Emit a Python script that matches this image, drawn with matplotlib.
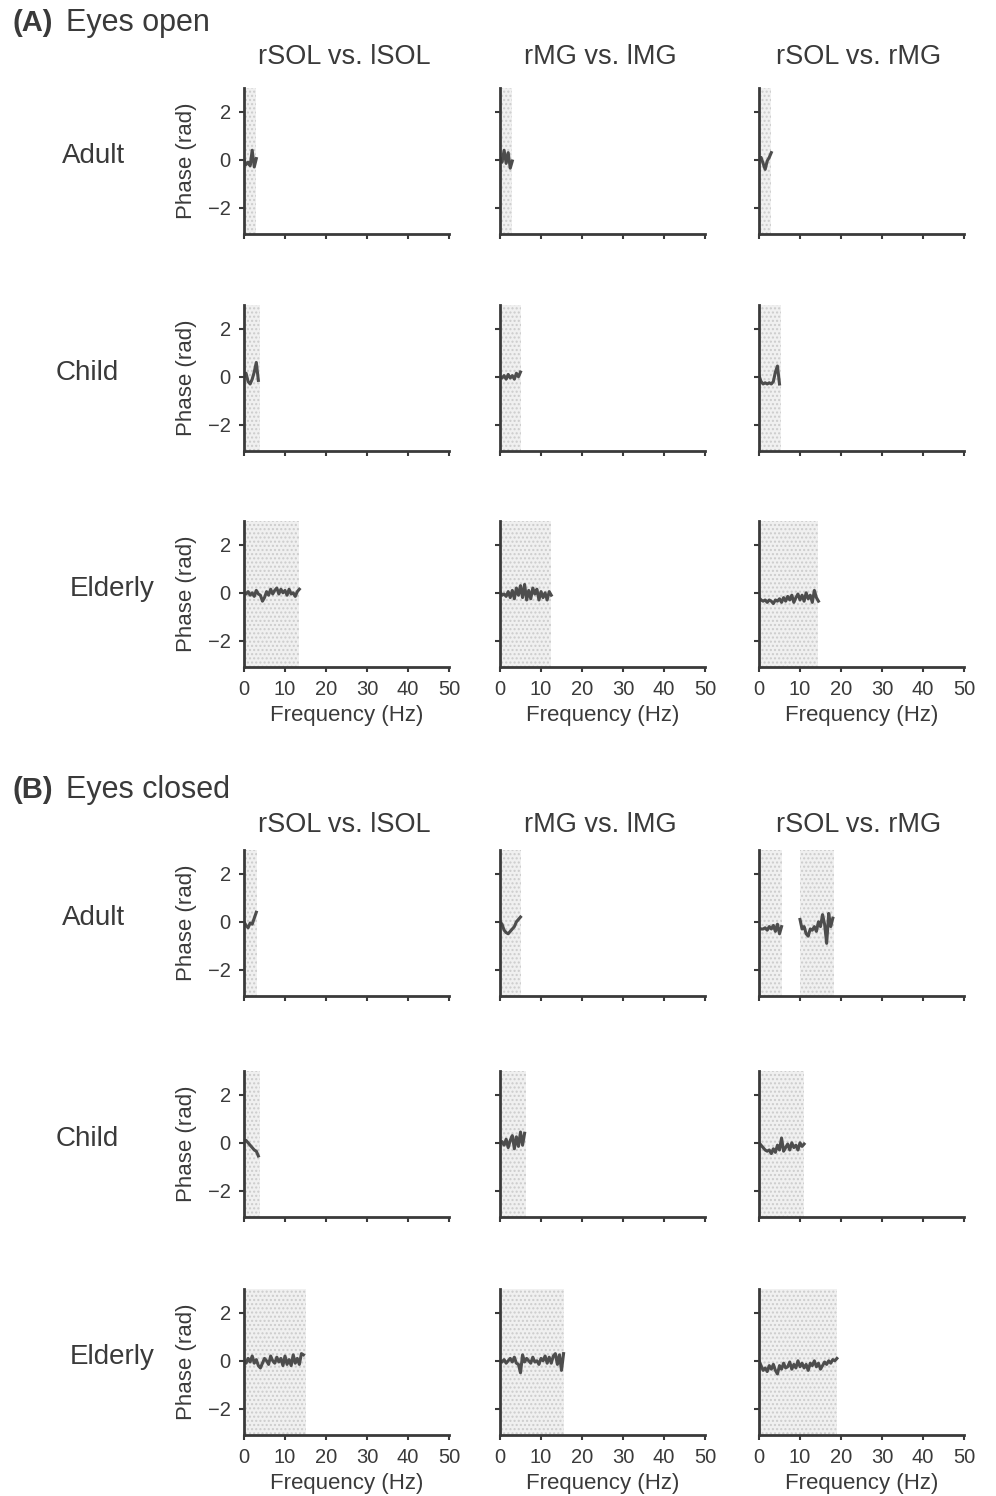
import matplotlib.pyplot as plt

plt.rcParams['font.family'] = ['Liberation Sans', 'DejaVu Sans']

INK = '#3a3a3a'
LINE = '#4d4d4d'

pairs = ["rSOL vs. lSOL", "rMG vs. lMG", "rSOL vs. rMG"]
groups = ["Adult", "Child", "Elderly"]
x_ticks = [0, 10, 20, 30, 40, 50]
y_ticks = [-2, 0, 2]

# ---- (A) eyes open: frequency (Hz) and phase (rad) of significant coherence
eo_adult_sol_f = [0, 0.5, 1, 1.5, 2, 2.5, 3]
eo_adult_sol_p = [0.0, -0.2, -0.1, -0.25, 0.4, -0.3, 0.05]
eo_adult_mg_f = [0, 0.5, 1, 1.5, 2, 2.5, 3]
eo_adult_mg_p = [0.05, -0.1, 0.4, -0.15, 0.3, -0.35, -0.05]
eo_adult_sm_f = [0, 0.5, 1, 1.5, 2, 2.5, 3]
eo_adult_sm_p = [0.0, 0.1, -0.15, -0.4, -0.05, 0.1, 0.3]

eo_child_sol_f = [0, 0.5, 1, 1.5, 2, 2.5, 3, 3.5]
eo_child_sol_p = [0.0, 0.15, -0.2, -0.3, -0.1, 0.2, 0.6, -0.15]
eo_child_mg_f = [0, 0.5, 1, 1.5, 2, 2.5, 3, 3.5, 4, 4.5, 5]
eo_child_mg_p = [0.0, -0.05, 0.05, -0.1, 0.1, -0.05, 0.05, -0.1, 0.15, 0.0, 0.2]
eo_child_sm_f = [0, 0.5, 1, 1.5, 2, 2.5, 3, 3.5, 4, 4.5, 5]
eo_child_sm_p = [0.05, -0.2, -0.3, -0.25, -0.3, -0.25, -0.3, -0.2, 0.2, 0.45, -0.3]

eo_eld_sol_f = [0, 0.5, 1, 1.5, 2, 2.5, 3, 3.5, 4, 4.5, 5, 5.5, 6, 6.5,
                7, 7.5, 8, 8.5, 9, 9.5, 10, 10.5, 11, 11.5, 12, 12.5, 13, 13.5]
eo_eld_sol_p = [0.0, -0.05, 0.05, -0.1, 0.0, -0.15, 0.1, -0.05, -0.1, -0.35,
                -0.2, 0.05, -0.1, 0.15, -0.05, 0.1, 0.2, -0.05, 0.15, 0.0,
                0.1, -0.1, 0.15, -0.05, 0.0, -0.15, 0.05, 0.15]
eo_eld_mg_f = [0, 0.5, 1, 1.5, 2, 2.5, 3, 3.5, 4, 4.5, 5, 5.5, 6, 6.5,
               7, 7.5, 8, 8.5, 9, 9.5, 10, 10.5, 11, 11.5, 12, 12.5]
eo_eld_mg_p = [0.05, -0.1, -0.05, -0.15, 0.05, -0.2, 0.1, -0.25, 0.2, -0.1,
               0.3, -0.2, 0.35, -0.3, 0.1, -0.25, 0.2, -0.05, 0.15, -0.3,
               0.05, -0.2, 0.0, -0.3, 0.05, -0.1]
eo_eld_sm_f = [0, 0.5, 1, 1.5, 2, 2.5, 3, 3.5, 4, 4.5, 5, 5.5, 6, 6.5, 7,
               7.5, 8, 8.5, 9, 9.5, 10, 10.5, 11, 11.5, 12, 12.5, 13, 13.5, 14, 14.5]
eo_eld_sm_p = [-0.2, -0.3, -0.35, -0.3, -0.4, -0.3, -0.35, -0.45, -0.3, -0.35,
               -0.25, -0.4, -0.2, -0.35, -0.15, -0.3, -0.1, -0.4, -0.2, -0.05,
               -0.3, -0.1, -0.35, 0.0, -0.25, -0.1, -0.4, 0.1, -0.2, -0.35]

# ---- (B) eyes closed
ec_adult_sol_f = [0, 0.5, 1, 1.5, 2, 2.5, 3]
ec_adult_sol_p = [0.0, -0.15, -0.25, -0.05, -0.1, 0.15, 0.4]
ec_adult_mg_f = [0, 0.5, 1, 1.5, 2, 2.5, 3, 3.5, 4, 4.5, 5]
ec_adult_mg_p = [0.0, -0.1, -0.35, -0.45, -0.5, -0.4, -0.3, -0.2, 0.0, 0.1, 0.2]
ec_adult_sm_f1 = [0, 0.5, 1, 1.5, 2, 2.5, 3, 3.5, 4, 4.5, 5, 5.5]
ec_adult_sm_p1 = [-0.25, -0.3, -0.3, -0.25, -0.35, -0.2, -0.3, -0.15, -0.4, -0.1, -0.5, -0.2]
ec_adult_sm_f2 = [10, 10.5, 11, 11.5, 12, 12.5, 13, 13.5, 14, 14.5, 15, 15.5,
                  16, 16.5, 17, 17.5, 18]
ec_adult_sm_p2 = [0.1, -0.3, -0.2, -0.5, -0.6, -0.3, -0.35, -0.2, -0.4, 0.0,
                  -0.2, 0.3, -0.1, -0.9, 0.35, -0.2, 0.15]

ec_child_sol_f = [0, 0.5, 1, 1.5, 2, 2.5, 3, 3.5]
ec_child_sol_p = [0.05, 0.1, 0.0, -0.1, -0.2, -0.3, -0.35, -0.55]
ec_child_mg_f = [0, 0.5, 1, 1.5, 2, 2.5, 3, 3.5, 4, 4.5, 5, 5.5, 6]
ec_child_mg_p = [0.0, 0.05, -0.1, 0.15, -0.2, 0.1, 0.3, -0.25, 0.25, -0.15, 0.45, -0.1, 0.4]
ec_child_sm_f = [0, 0.5, 1, 1.5, 2, 2.5, 3, 3.5, 4, 4.5, 5, 5.5, 6, 6.5, 7,
                 7.5, 8, 8.5, 9, 9.5, 10, 10.5, 11]
ec_child_sm_p = [0.0, -0.1, -0.2, -0.3, -0.35, -0.3, -0.45, -0.25, -0.4, -0.1,
                 -0.3, 0.2, -0.35, -0.2, -0.05, -0.3, 0.0, -0.2, -0.1, -0.3,
                 0.0, -0.15, -0.05]

ec_eld_sol_f = [0, 0.5, 1, 1.5, 2, 2.5, 3, 3.5, 4, 4.5, 5, 5.5, 6, 6.5, 7,
                7.5, 8, 8.5, 9, 9.5, 10, 10.5, 11, 11.5, 12, 12.5, 13, 13.5, 14, 14.5]
ec_eld_sol_p = [0.0, -0.1, 0.1, -0.05, 0.2, -0.1, 0.05, -0.2, -0.3, -0.1,
                0.1, 0.0, -0.15, 0.2, 0.0, -0.1, 0.15, -0.05, 0.1, -0.2,
                0.2, -0.15, 0.05, -0.2, 0.25, -0.1, 0.1, -0.15, 0.3, 0.25]
ec_eld_mg_f = [0, 0.5, 1, 1.5, 2, 2.5, 3, 3.5, 4, 4.5, 5, 5.5, 6, 6.5, 7, 7.5,
               8, 8.5, 9, 9.5, 10, 10.5, 11, 11.5, 12, 12.5, 13, 13.5, 14, 14.5, 15, 15.5]
ec_eld_mg_p = [0.0, -0.05, 0.05, -0.1, 0.0, 0.1, -0.05, 0.15, -0.1, -0.15,
               -0.5, 0.25, -0.05, 0.1, 0.0, -0.1, 0.15, -0.05, 0.0, -0.15,
               0.1, 0.0, 0.2, -0.1, 0.15, -0.1, 0.2, 0.3, -0.15, 0.25, -0.4, 0.3]
ec_eld_sm_f = [0, 0.5, 1, 1.5, 2, 2.5, 3, 3.5, 4, 4.5, 5, 5.5, 6, 6.5, 7, 7.5,
               8, 8.5, 9, 9.5, 10, 10.5, 11, 11.5, 12, 12.5, 13, 13.5, 14, 14.5,
               15, 15.5, 16, 16.5, 17, 17.5, 18, 18.5, 19]
ec_eld_sm_p = [0.0, -0.2, -0.4, -0.3, -0.45, -0.2, -0.35, -0.15, -0.4, -0.55,
               -0.2, -0.35, -0.1, -0.3, -0.25, -0.05, -0.35, -0.15, -0.3, 0.0,
               -0.25, -0.1, -0.3, -0.15, -0.4, -0.1, -0.2, 0.0, -0.25, -0.1,
               -0.35, -0.2, -0.05, -0.15, 0.0, -0.1, 0.05, 0.0, 0.1]

# significant frequency bands (Hz) shaded in each panel
eo_bands = [[[(0, 3)], [(0, 3)], [(0, 3)]],
            [[(0, 3.8)], [(0, 5)], [(0, 5.3)]],
            [[(0, 13.5)], [(0, 12.5)], [(0, 14.5)]]]
ec_bands = [[[(0, 3.2)], [(0, 5)], [(0, 5.5), (10, 18.3)]],
            [[(0, 3.8)], [(0, 6.3)], [(0, 11)]],
            [[(0, 15)], [(0, 15.5)], [(0, 19)]]]

eo_lines = [[[(eo_adult_sol_f, eo_adult_sol_p)], [(eo_adult_mg_f, eo_adult_mg_p)], [(eo_adult_sm_f, eo_adult_sm_p)]],
            [[(eo_child_sol_f, eo_child_sol_p)], [(eo_child_mg_f, eo_child_mg_p)], [(eo_child_sm_f, eo_child_sm_p)]],
            [[(eo_eld_sol_f, eo_eld_sol_p)], [(eo_eld_mg_f, eo_eld_mg_p)], [(eo_eld_sm_f, eo_eld_sm_p)]]]
ec_lines = [[[(ec_adult_sol_f, ec_adult_sol_p)], [(ec_adult_mg_f, ec_adult_mg_p)],
             [(ec_adult_sm_f1, ec_adult_sm_p1), (ec_adult_sm_f2, ec_adult_sm_p2)]],
            [[(ec_child_sol_f, ec_child_sol_p)], [(ec_child_mg_f, ec_child_mg_p)], [(ec_child_sm_f, ec_child_sm_p)]],
            [[(ec_eld_sol_f, ec_eld_sol_p)], [(ec_eld_mg_f, ec_eld_mg_p)], [(ec_eld_sm_f, ec_eld_sm_p)]]]

W, H = 996, 1496
fig = plt.figure(figsize=(W / 100, H / 100), dpi=100)

col_left = [244, 500, 759]
ax_w = 205
row_tops = [[88, 305, 521], [850, 1071, 1289]]
ax_h = 146
row_label_x = [93, 87, 112]


def px_text(x, y, s, **kw):
    fig.text(x / W, 1 - y / H, s, color=INK, **kw)


def draw_block(block, bands, lines, title_y, head_y, letter, head):
    px_text(12, head_y, letter, fontsize=21, fontweight='bold', va='center')
    px_text(66, head_y, head, fontsize=22, va='center')
    for c in range(3):
        px_text(col_left[c] + 100, title_y, pairs[c], fontsize=19.5, ha='center', va='center')
    for r in range(3):
        top = row_tops[block][r]
        px_text(row_label_x[r], top + 68, groups[r], fontsize=20, ha='center', va='center')
        for c in range(3):
            ax = fig.add_axes([col_left[c] / W, 1 - (top + ax_h) / H, ax_w / W, ax_h / H])
            for lo, hi in bands[r][c]:
                ax.axvspan(lo, hi, facecolor='#f0f0f0', edgecolor='#cccccc',
                           hatch='....', linewidth=0, zorder=0)
            for f, p in lines[r][c]:
                ax.plot(f, p, color=LINE, lw=2.2, zorder=2)
            ax.set_xlim(0, 50)
            ax.set_ylim(-3.1, 3.0)
            ax.set_xticks(x_ticks)
            ax.set_yticks(y_ticks)
            for side in ['top', 'right']:
                ax.spines[side].set_visible(False)
            for side in ['left', 'bottom']:
                ax.spines[side].set_color(INK)
                ax.spines[side].set_linewidth(2)
            ax.tick_params(direction='out', length=3.5, width=1.5, colors=INK,
                           labelsize=14.5, pad=6)
            if r < 2:
                ax.set_xticklabels([])
            else:
                ax.set_xlabel("Frequency (Hz)", fontsize=16, color=INK, labelpad=4)
            if c > 0:
                ax.set_yticklabels([])
            else:
                ax.set_ylabel("Phase (rad)", fontsize=16, color=INK, labelpad=8)


draw_block(0, eo_bands, eo_lines, 57, 23, "(A)", "Eyes open")
draw_block(1, ec_bands, ec_lines, 825, 790, "(B)", "Eyes closed")

fig.savefig("out.png", dpi=100)
